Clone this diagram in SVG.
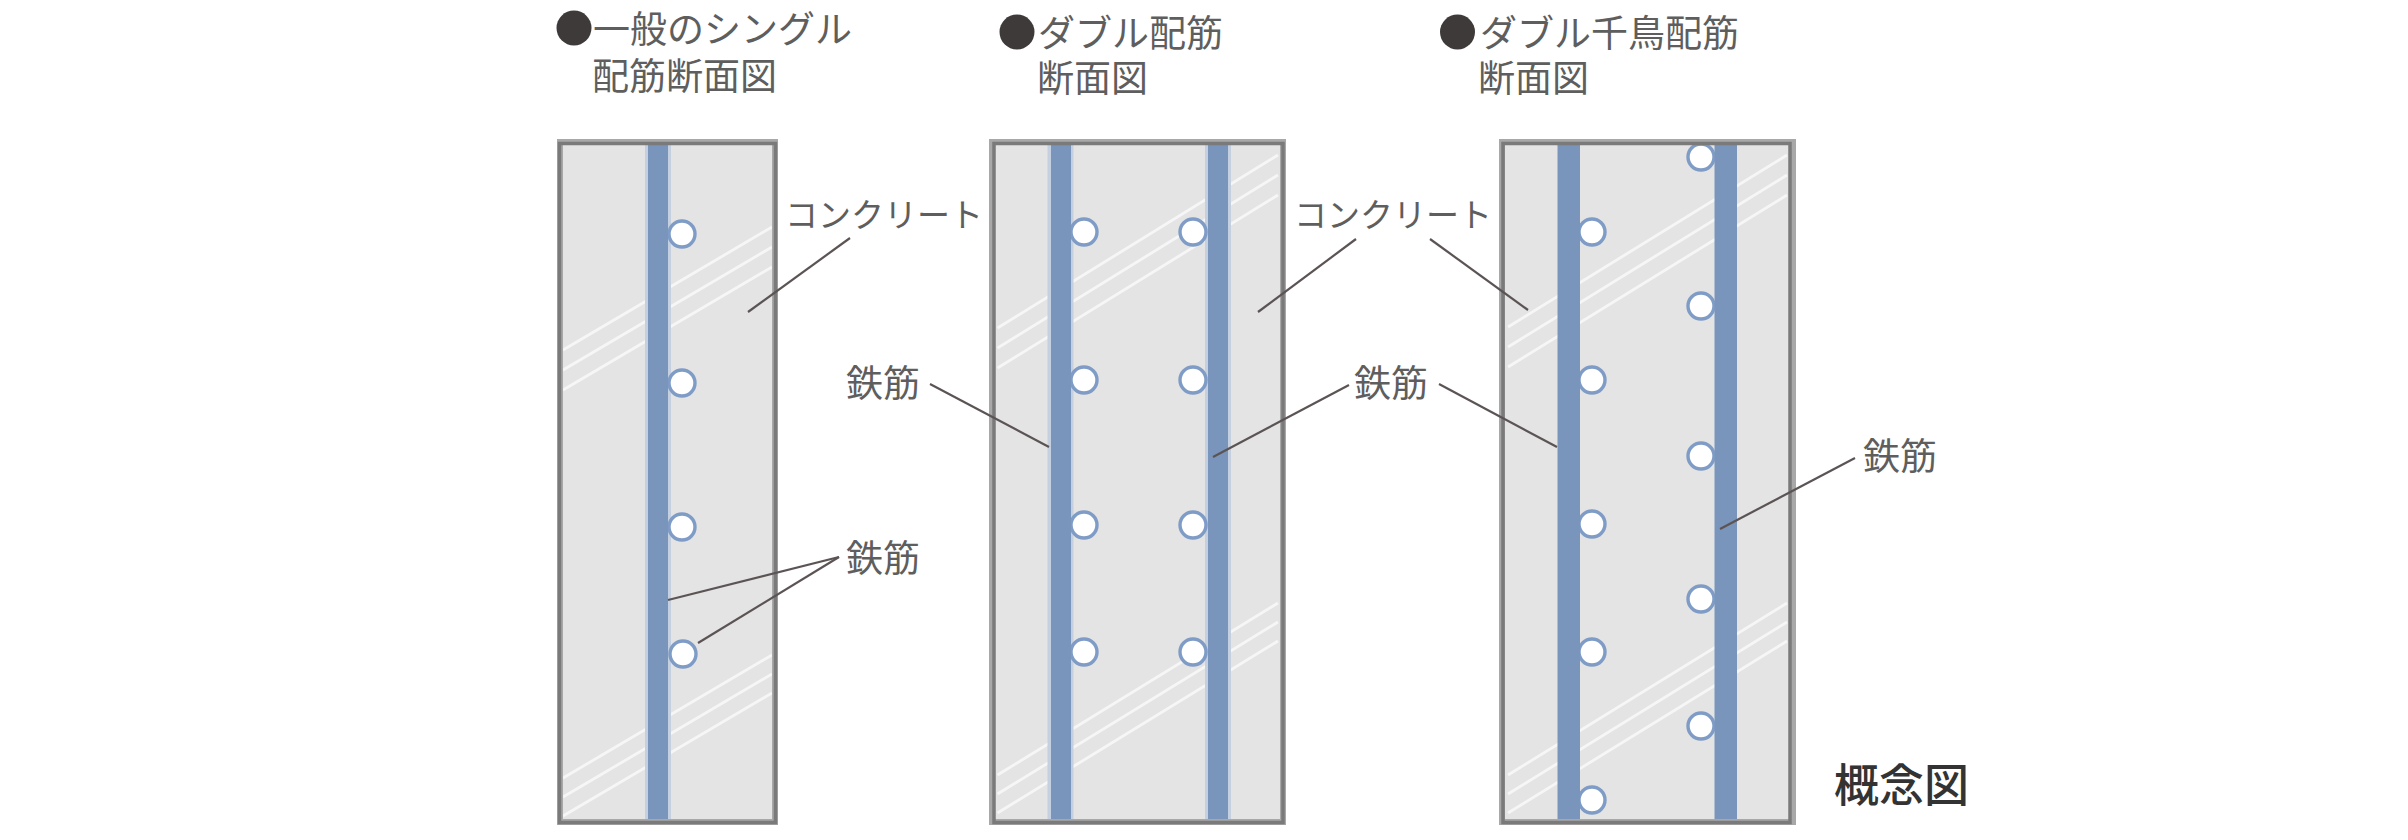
<svg xmlns="http://www.w3.org/2000/svg" width="2408" height="840" viewBox="0 0 2408 840">
<style>
.fill{fill:#e4e4e4}
.edge{fill:none;stroke:#a8a8a8;stroke-width:6}
.line{fill:none;stroke:#7a7a7a;stroke-width:3.5}
.hatch{stroke:#f6f6f6;stroke-width:2.8;fill:none}
.fringe{fill:#c4cfdf}
.core{fill:#7a95bb}
.bar{fill:#fff;stroke:#7f9cc6;stroke-width:3.4}
.lead{fill:none;stroke:#5c5454;stroke-width:2.2}
.t{font-family:"Liberation Sans","Noto Sans CJK JP","Noto Sans CJK SC",sans-serif;font-size:37px;font-weight:400;fill:#5e5e5e}
.k{font-size:33px}
.dot{fill:#3e3a39}
.h{font-size:45px;font-weight:500;fill:#333}
</style>
<rect width="2408" height="840" fill="#fff"/>

<g id="title-single">
<circle class="dot" cx="574" cy="28" r="17.5"/>
<text class="t" x="593" y="43">一般のシングル</text>
<text class="t" x="592" y="90">配筋断面図</text>
</g>
<g id="title-double">
<circle class="dot" cx="1017" cy="32" r="17.5"/>
<text class="t" x="1038" y="47">ダブル配筋</text>
<text class="t" x="1037" y="92">断面図</text>
</g>
<g id="title-staggered">
<circle class="dot" cx="1457.5" cy="32" r="17.5"/>
<text class="t" x="1480" y="47">ダブル千鳥配筋</text>
<text class="t" x="1478" y="92">断面図</text>
</g>

<g id="panel-single">
<rect class="fill" x="559" y="142" width="217" height="680"/>
<g class="hatch">
<path d="M563 350L772 227M563 370L772 247M563 390L772 267"/>
<path d="M563 778L772 655M563 797L772 674M563 816L772 693"/>
</g>
<rect class="fringe" x="645" y="145" width="26" height="675"/>
<circle class="bar" cx="682" cy="234" r="13"/>
<circle class="bar" cx="682" cy="383" r="13"/>
<circle class="bar" cx="682" cy="527" r="13"/>
<circle class="bar" cx="683" cy="654" r="13"/>
<rect class="core" x="648" y="145" width="20" height="675"/>
<rect class="edge" x="560" y="142" width="215" height="680"/>
<rect class="line" x="559.5" y="143.5" width="216" height="679"/>
</g>

<g id="panel-double">
<rect class="fill" x="994" y="142" width="289" height="680"/>
<g class="hatch">
<path d="M997.5 328L1278 155M997.5 348L1278 175M997.5 368L1278 195"/>
<path d="M997.5 775L1278 603M997.5 794L1278 622M997.5 813L1278 641"/>
</g>
<rect class="fringe" x="1047.5" y="145" width="26" height="675"/>
<rect class="fringe" x="1205" y="145" width="26" height="675"/>
<circle class="bar" cx="1084" cy="232" r="13"/>
<circle class="bar" cx="1084" cy="380" r="13"/>
<circle class="bar" cx="1084" cy="525" r="13"/>
<circle class="bar" cx="1084" cy="652" r="13"/>
<circle class="bar" cx="1193" cy="232" r="13"/>
<circle class="bar" cx="1193" cy="380" r="13"/>
<circle class="bar" cx="1193" cy="525" r="13"/>
<circle class="bar" cx="1193" cy="652" r="13"/>
<rect class="core" x="1051" y="145" width="20" height="675"/>
<rect class="core" x="1208" y="145" width="20" height="675"/>
<rect class="edge" x="992" y="142" width="291" height="680"/>
<rect class="line" x="994" y="143.5" width="289" height="679"/>
</g>

<g id="panel-staggered">
<rect class="fill" x="1502" y="142" width="290" height="680"/>
<g class="hatch">
<path d="M1508 327L1787 155M1508 347L1787 175M1508 367L1787 195"/>
<path d="M1508 775L1787 603M1508 794L1787 622M1508 813L1787 641"/>
</g>
<circle class="bar" cx="1592" cy="232" r="13"/>
<circle class="bar" cx="1592" cy="380" r="13"/>
<circle class="bar" cx="1592" cy="524" r="13"/>
<circle class="bar" cx="1592" cy="652" r="13"/>
<circle class="bar" cx="1592" cy="800" r="13"/>
<circle class="bar" cx="1701" cy="157" r="13"/>
<circle class="bar" cx="1701" cy="306" r="13"/>
<circle class="bar" cx="1701" cy="456" r="13"/>
<circle class="bar" cx="1701" cy="599" r="13"/>
<circle class="bar" cx="1701" cy="726" r="13"/>
<rect class="core" x="1557.5" y="145" width="22.5" height="675"/>
<rect class="core" x="1714.5" y="145" width="22.5" height="675"/>
<rect class="edge" x="1502" y="142" width="291" height="680"/>
<rect class="line" x="1503" y="143.5" width="287" height="679"/>
</g>

<g id="connectors">
<path class="lead" d="M850 238L748 312"/>
<path class="lead" d="M839 557L668 600"/>
<path class="lead" d="M839 557L698 643"/>
<path class="lead" d="M930 384L1049 447"/>
<path class="lead" d="M1356 239L1258 312"/>
<path class="lead" d="M1349 385L1213 457"/>
<path class="lead" d="M1430 239L1528 310"/>
<path class="lead" d="M1439 384L1557 447"/>
<path class="lead" d="M1855 458L1720 529"/>
</g>

<g id="label-concrete-1"><text class="t k" x="785" y="227">コンクリート</text></g>
<g id="label-rebar-1"><text class="t" x="846" y="572">鉄筋</text></g>
<g id="label-rebar-2"><text class="t" x="846" y="397">鉄筋</text></g>
<g id="label-concrete-2"><text class="t k" x="1294" y="227">コンクリート</text></g>
<g id="label-rebar-3"><text class="t" x="1354" y="397">鉄筋</text></g>
<g id="label-rebar-4"><text class="t" x="1863" y="470">鉄筋</text></g>
<g id="caption"><text class="t h" x="1834" y="802">概念図</text></g>
</svg>
